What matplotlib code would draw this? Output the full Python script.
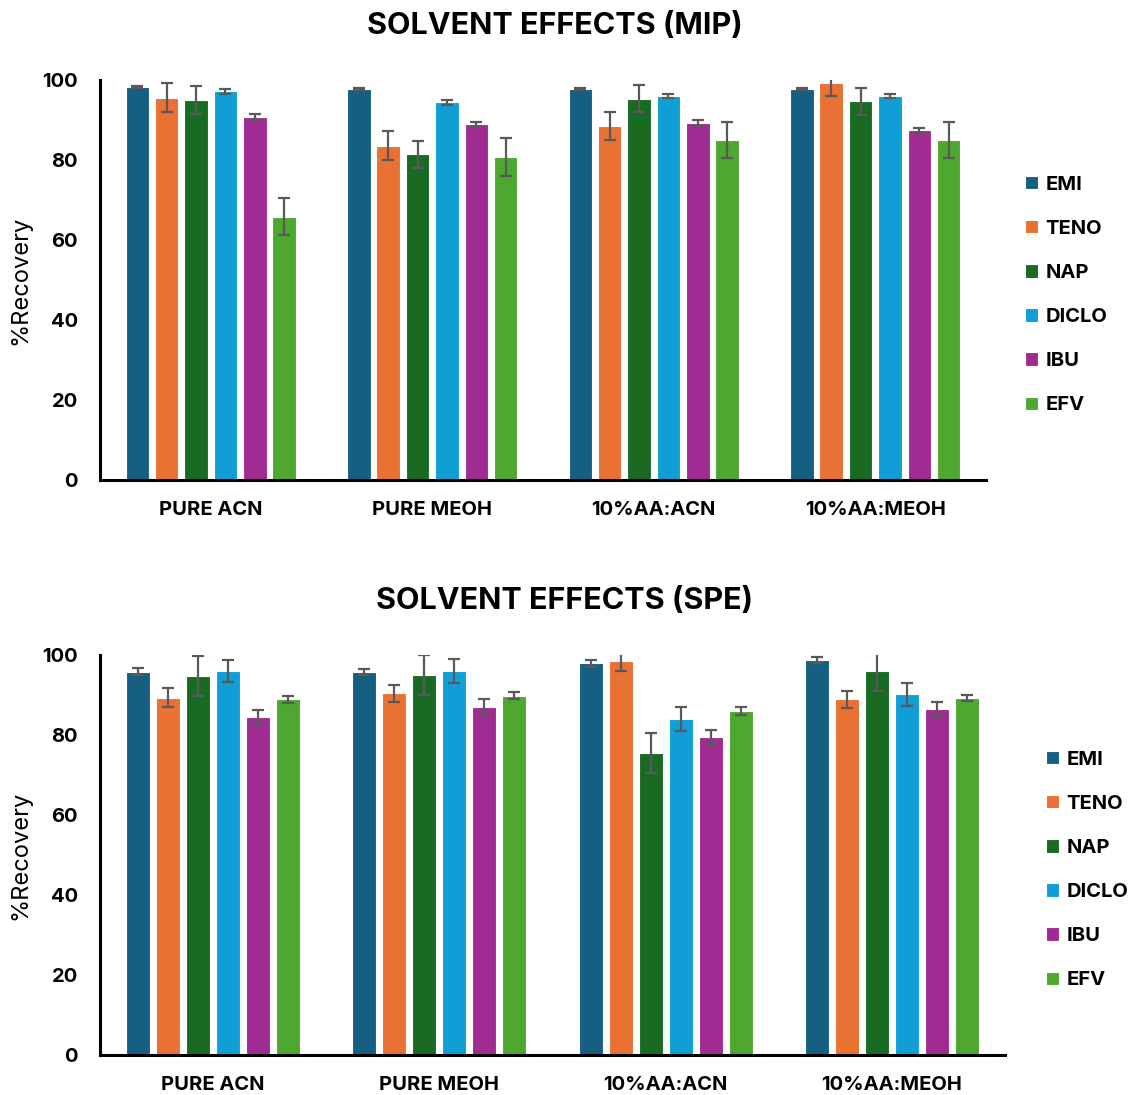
import matplotlib
matplotlib.use("Agg")
import matplotlib.pyplot as plt
import numpy as np

plt.rcParams['font.family'] = ['Inter', 'DejaVu Sans']

solvents = ["PURE ACN", "PURE MEOH", "10%AA:ACN", "10%AA:MEOH"]
analytes = ["EMI", "TENO", "NAP", "DICLO", "IBU", "EFV"]
colors = ["#156082", "#E97132", "#196B24", "#0F9ED5", "#A02B93", "#4EA72E"]
y_ticks = [0, 20, 40, 60, 80, 100]

# MIP recoveries (per analyte, one value per solvent) and their errors
mip_mean = {
    "EMI":   [98.2, 97.8, 97.8, 97.8],
    "TENO":  [95.6, 83.6, 88.6, 99.3],
    "NAP":   [95.0, 81.4, 95.3, 94.7],
    "DICLO": [97.2, 94.4, 95.9, 95.9],
    "IBU":   [90.8, 88.9, 89.3, 87.4],
    "EFV":   [65.8, 80.8, 84.9, 84.9],
}
mip_err = {
    "EMI":   [0.3, 0.3, 0.3, 0.3],
    "TENO":  [3.6, 3.6, 3.5, 3.3],
    "NAP":   [3.4, 3.4, 3.4, 3.4],
    "DICLO": [0.6, 0.7, 0.5, 0.5],
    "IBU":   [0.8, 0.65, 0.75, 0.7],
    "EFV":   [4.6, 4.7, 4.5, 4.5],
}

# SPE recoveries and their errors
spe_mean = {
    "EMI":   [95.8, 95.7, 97.9, 98.7],
    "TENO":  [89.3, 90.4, 98.5, 88.9],
    "NAP":   [94.8, 95.1, 75.4, 96.0],
    "DICLO": [96.0, 96.0, 84.0, 90.2],
    "IBU":   [84.4, 87.1, 79.4, 86.4],
    "EFV":   [88.9, 89.8, 86.1, 89.2],
}
spe_err = {
    "EMI":   [0.9, 0.8, 0.8, 0.8],
    "TENO":  [2.4, 2.2, 2.4, 2.2],
    "NAP":   [5.0, 5.0, 5.0, 4.9],
    "DICLO": [2.8, 3.0, 3.0, 2.9],
    "IBU":   [1.75, 1.9, 1.8, 1.8],
    "EFV":   [0.8, 0.9, 1.0, 0.8],
}

W, H = 1132, 1095
fig = plt.figure(figsize=(W / 100, H / 100), dpi=100)


def px_axes(left, top, right, bottom):
    return fig.add_axes([left / W, 1 - bottom / H, (right - left) / W, (bottom - top) / H])


def draw_panel(ax, means, errs, title, title_xy, legend_xy):
    x = np.arange(len(solvents))
    step = 0.1325
    width = 0.106
    for i, name in enumerate(analytes):
        pos = x + (i - 2.5) * step
        ax.bar(pos, means[name], width=width, color=colors[i],
               edgecolor="white", linewidth=0.8, label=name, zorder=2)
        ax.errorbar(pos, means[name], yerr=errs[name], fmt="none",
                    ecolor="#595959", elinewidth=1.6, capsize=4,
                    capthick=1.6, zorder=3)
    ax.set_xlim(-0.5, 3.5)
    ax.set_ylim(0, 100)
    ax.set_yticks(y_ticks)
    ax.set_xticks(x)
    ax.set_xticklabels(solvents, fontsize=14.5, fontweight="bold")
    ax.set_yticklabels([str(t) for t in y_ticks], fontsize=14.5, fontweight="bold")
    ax.tick_params(axis="both", length=0)
    ax.tick_params(axis="x", pad=15)
    ax.tick_params(axis="y", pad=16)
    for s in ("top", "right"):
        ax.spines[s].set_visible(False)
    for s in ("left", "bottom"):
        ax.spines[s].set_linewidth(2.2)
        ax.spines[s].set_color("black")
    ax.set_ylabel("%Recovery", fontsize=17, labelpad=8)
    fig.text(title_xy[0] / W, 1 - title_xy[1] / H, title, ha="center",
             va="center", fontsize=22, fontweight="bold")
    handles, labels = ax.get_legend_handles_labels()
    fig.legend(handles, labels, loc="center left",
               bbox_to_anchor=(legend_xy[0] / W, 1 - legend_xy[1] / H),
               frameon=False, prop={"weight": "bold", "size": 14.5},
               handlelength=0.65, handleheight=0.65, handletextpad=0.35,
               labelspacing=1.3, borderpad=0, borderaxespad=0)


ax1 = px_axes(100, 80, 986, 480)
draw_panel(ax1, mip_mean, mip_err, "SOLVENT EFFECTS (MIP)", (555, 26), (1025, 295))

ax2 = px_axes(100, 655, 1005, 1055)
draw_panel(ax2, spe_mean, spe_err, "SOLVENT EFFECTS (SPE)", (565, 601), (1046, 870))

fig.savefig("out.png", dpi=100)
